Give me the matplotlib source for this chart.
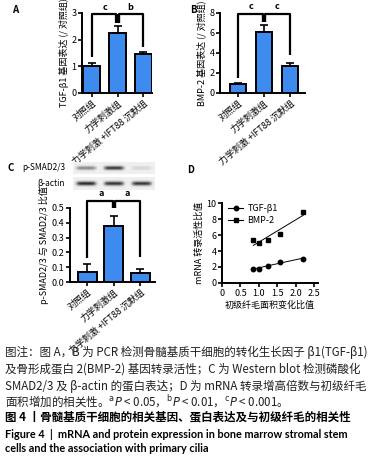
import numpy as np
import matplotlib
matplotlib.use("Agg")
import matplotlib.pyplot as plt
from matplotlib.lines import Line2D

plt.rcParams["font.family"] = ["Noto Sans CJK SC", "DejaVu Sans"]
plt.rcParams["axes.unicode_minus"] = False

W, H = 376, 458
BLUE = "#3d8bef"

groups = ["对照组", "力学刺激组", "力学刺激 +IFT88 沉默组"]

# A: TGF-b1 mRNA
tgf_mean = [1.02, 2.25, 1.45]
tgf_err = [0.12, 0.25, 0.10]
# B: BMP-2 mRNA
bmp_mean = [0.9, 6.1, 2.7]
bmp_err = [0.08, 0.7, 0.35]
# C: p-SMAD2/3 / SMAD2/3
smad_mean = [0.07, 0.375, 0.06]
smad_err = [0.05, 0.07, 0.03]
# western blot band strength per lane (0..1)
psmad_band = [0.45, 0.8, 0.12]
actin_band = [0.85, 0.8, 0.8]

# D: correlation
cilia_ratio = [0.85, 1.0, 1.24, 1.56, 2.2]
tgf_ratio = [1.8, 1.8, 2.1, 2.65, 3.05]
bmp_ratio = [5.4, 4.95, 5.4, 6.1, 8.9]

caption = [
    "图注：图 A，B 为 PCR 检测骨髓基质干细胞的转化生长因子 β1(TGF-β1)",
    "及骨形成蛋白 2(BMP-2) 基因转录活性；C 为 Western blot 检测磷酸化",
    "SMAD2/3 及 β-actin 的蛋白表达；D 为 mRNA 转录增高倍数与初级纤毛",
    "面积增加的相关性。$^{\\rm a}\\it{P}$ < 0.05，$^{\\rm b}\\it{P}$ < 0.01，$^{\\rm c}\\it{P}$ < 0.001。",
]
title_cn = "图 4 丨骨髓基质干细胞的相关基因、蛋白表达及与初级纤毛的相关性"
title_en = ["Figure 4  |  mRNA and protein expression in bone marrow stromal stem",
            "cells and the association with primary cilia"]


def px_axes(fig, x0, y0, x1, y1):
    return fig.add_axes([x0 / W, 1 - y1 / H, (x1 - x0) / W, (y1 - y0) / H])


def style_axes(ax):
    for s in ["top", "right"]:
        ax.spines[s].set_visible(False)
    for s in ["left", "bottom"]:
        ax.spines[s].set_linewidth(1.4)
    ax.tick_params(width=1.2, length=3, labelsize=6.5, pad=1)


def bar_panel(ax, means, errs, width, xlim, ylim, yticks, ylabel, legs, top, marks):
    x = np.arange(len(means))
    ax.bar(x, means, width=width, color=BLUE, edgecolor="black", linewidth=1.4, zorder=2)
    ax.errorbar(x, means, yerr=[np.zeros(len(errs)), errs], fmt="none",
                ecolor="black", elinewidth=1.2, capsize=3, capthick=1.2, zorder=3)
    ax.set_xlim(*xlim)
    ax.set_ylim(*ylim)
    ax.set_yticks(yticks)
    ax.set_xticks(x)
    ax.set_xticklabels(groups, rotation=40, ha="right", rotation_mode="anchor", fontsize=6.5)
    ax.set_ylabel(ylabel, fontsize=6.5, labelpad=2)
    style_axes(ax)
    # significance brackets
    l0, m0, r0 = legs
    kw = dict(color="black", lw=1.6, clip_on=False, solid_capstyle="butt")
    ax.plot([0, 0, 0.95, 0.95], [l0, top, top, m0], **kw)
    ax.plot([1.05, 1.05, 2, 2], [m0, top, top, r0], **kw)
    ax.plot([1, 1], [m0, top], color="black", lw=3, clip_on=False, solid_capstyle="butt")
    span = ylim[1] - ylim[0]
    ax.text(0.5, top + span * 0.03, marks[0], ha="center", va="bottom", fontsize=6.5,
            fontweight="bold", clip_on=False)
    ax.text(1.5, top + span * 0.03, marks[1], ha="center", va="bottom", fontsize=6.5,
            fontweight="bold", clip_on=False)


fig = plt.figure(figsize=(W / 100, H / 100), dpi=100)

# panel A
axA = px_axes(fig, 82, 13, 152, 93)
bar_panel(axA, tgf_mean, tgf_err, 0.65, (-0.38, 2.33), (0, 3), [0, 1, 2, 3],
          "TGF-β1 基因表达 (/ 对照组)", (1.35, 2.62, 1.72), 2.96, ("c", "b"))
fig.text(12 / W, 1 - 10 / H, "A", fontsize=7, fontweight="bold", va="center")

# panel B
axB = px_axes(fig, 220, 13, 305, 93)
bar_panel(axB, bmp_mean, bmp_err, 0.62, (-0.69, 2.58), (0, 8), [0, 2, 4, 6, 8],
          "BMP-2 基因表达 (/ 对照组)", (1.5, 7.1, 3.8), 7.95, ("c", "c"))
fig.text(190 / W, 1 - 10 / H, "B", fontsize=7, fontweight="bold", va="center")

# panel C: blot strips
def blot(ax, strength):
    ny, nx = 30, 160
    yy = np.linspace(-1, 1, ny)[:, None]
    xx = np.linspace(0, 1, nx)[None, :]
    img = np.full((ny, nx), 0.94)
    for cx, s in zip([0.16, 0.5, 0.84], strength):
        prof = np.exp(-((yy / 0.32) ** 2)) * np.exp(-((xx - cx) / 0.12) ** 6)
        img -= 0.92 * s * prof
    ax.imshow(np.clip(img, 0, 1), cmap="gray", vmin=0, vmax=1, aspect="auto",
              interpolation="bilinear")
    ax.set_axis_off()

blot(px_axes(fig, 73, 162, 155, 174), psmad_band)
blot(px_axes(fig, 73, 177, 155, 190), actin_band)
fig.text(65 / W, 1 - 168 / H, "p-SMAD2/3", fontsize=6, ha="right", va="center")
fig.text(65 / W, 1 - 184 / H, "β-actin", fontsize=6, ha="right", va="center")
fig.text(8 / W, 1 - 168 / H, "C", fontsize=7, fontweight="bold", va="center")

axC = px_axes(fig, 70, 208, 155, 282)
bar_panel(axC, smad_mean, smad_err, 0.72, (-0.66, 2.55), (0, 0.5), [0, 0.1, 0.2, 0.3, 0.4, 0.5],
          "p-SMAD2/3 与 SMAD2/3 比值", (0.16, 0.5, 0.17), 0.55, ("a", "a"))

# panel D
axD = px_axes(fig, 222, 203, 318, 283)
xs = np.array(cilia_ratio)
for ys, mk, name in [(tgf_ratio, "o", "TGF-β1"), (bmp_ratio, "s", "BMP-2")]:
    ys = np.array(ys)
    axD.plot(xs, ys, linestyle="none", marker=mk, ms=3.2, color="black")
    k, b = np.polyfit(xs, ys, 1)
    axD.plot([xs.min(), xs.max()], [k * xs.min() + b, k * xs.max() + b], color="black", lw=0.7)
axD.set_xlim(0, 2.6)
axD.set_ylim(0, 10)
axD.set_xticks([0, 0.5, 1.0, 1.5, 2.0, 2.5])
axD.set_xticklabels(["0", "0.5", "1.0", "1.5", "2.0", "2.5"])
axD.set_yticks([0, 2, 4, 6, 8, 10])
style_axes(axD)
axD.set_ylabel("mRNA 转录活性比值", fontsize=6.5, labelpad=2)
axD.set_xlabel("初级纤毛面积变化比值", fontsize=6.5, labelpad=2)
handles = [Line2D([], [], color="black", marker="o", ms=3.2, lw=0.8),
           Line2D([], [], color="black", marker="s", ms=3.2, lw=0.8)]
axD.legend(handles, ["TGF-β1", "BMP-2"], loc="upper left", frameon=False, fontsize=6.5,
           handlelength=1.6, handletextpad=0.5, borderaxespad=0.1, labelspacing=0.3,
           bbox_to_anchor=(0.02, 1.04))
fig.text(187 / W, 1 - 170 / H, "D", fontsize=7, fontweight="bold", va="center")

# caption
ys_cap = [352.5, 369, 386, 401.5]
for line, yc in zip(caption, ys_cap):
    fig.text(5 / W, 1 - yc / H, line, fontsize=8.3, va="center", color="#231f20")
fig.text(5 / W, 1 - 417 / H, title_cn, fontsize=8.3, va="center", color="black",
         fontweight="bold")
for line, yc in zip(title_en, [434, 449]):
    fig.text(5 / W, 1 - yc / H, line, fontsize=7.8, va="center", color="black",
             fontweight="bold", family=["Lato", "DejaVu Sans"])

fig.savefig("out.png", dpi=100)
